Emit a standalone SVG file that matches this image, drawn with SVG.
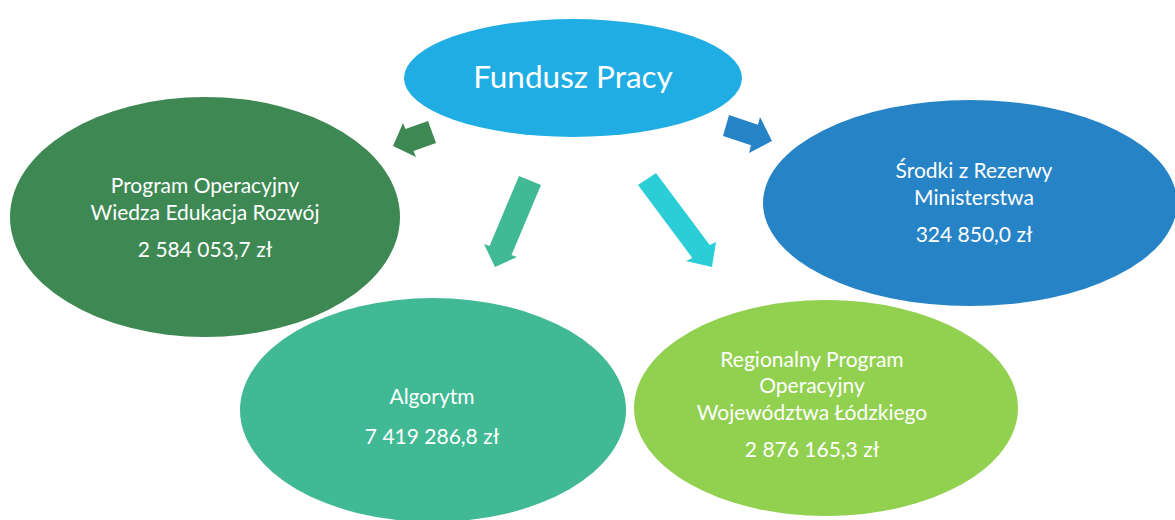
<svg xmlns="http://www.w3.org/2000/svg" width="1175" height="520" viewBox="0 0 1175 520">
<style>
text{font-family:Lato,"Liberation Sans",sans-serif;fill:#fff;text-anchor:middle}
.s{font-size:21px}
.t{font-size:31.5px}
</style>
<rect width="1175" height="520" fill="#fff"/>
<g id="node-algorytm"><ellipse cx="433" cy="410" rx="193" ry="112" fill="#40B994"/>
<text class="s" x="432" y="404">Algorytm</text><text class="s" x="432" y="444">7 419 286,8 zł</text></g>
<g id="node-rpo"><ellipse cx="826" cy="408" rx="192" ry="108" fill="#92D050"/>
<text class="s" x="812" y="367">Regionalny Program</text><text class="s" x="812" y="393">Operacyjny</text><text class="s" x="812" y="420">Województwa Łódzkiego</text><text class="s" x="812" y="457">2 876 165,3 zł</text></g>
<g id="node-powr"><ellipse cx="205" cy="217" rx="195" ry="120" fill="#3E8853"/>
<text class="s" x="205" y="193">Program Operacyjny</text><text class="s" x="205" y="220">Wiedza Edukacja Rozwój</text><text class="s" x="205" y="257">2 584 053,7 zł</text></g>
<g id="node-rezerwa"><ellipse cx="970" cy="203" rx="207" ry="103" fill="#2683C6"/>
<text class="s" x="974" y="178">Środki z Rezerwy</text><text class="s" x="974" y="205">Ministerstwa</text><text class="s" x="974" y="242">324 850,0 zł</text></g>
<g id="node-fp"><ellipse cx="573" cy="78" rx="169" ry="59" fill="#1FADE4"/>
<text class="t" x="573" y="88">Fundusz Pracy</text></g>
<g id="connectors">
<polygon points="428,121 405.5,129 403,123 393,146 416,157 413.5,151 436,143" fill="#3E8853"/>
<polygon points="519,176 489.5,246 484,244 495,267 517,257 511.5,255 541,185" fill="#40B994"/>
<polygon points="656,173 709.7,245.1 716,242 712,267 686,261 692.3,257.9 638,185" fill="#2BCDD6"/>
<polygon points="729,115 758,124.7 760,117 772,141 749,153 751,145.3 723,136" fill="#2683C6"/>
</g>
</svg>
